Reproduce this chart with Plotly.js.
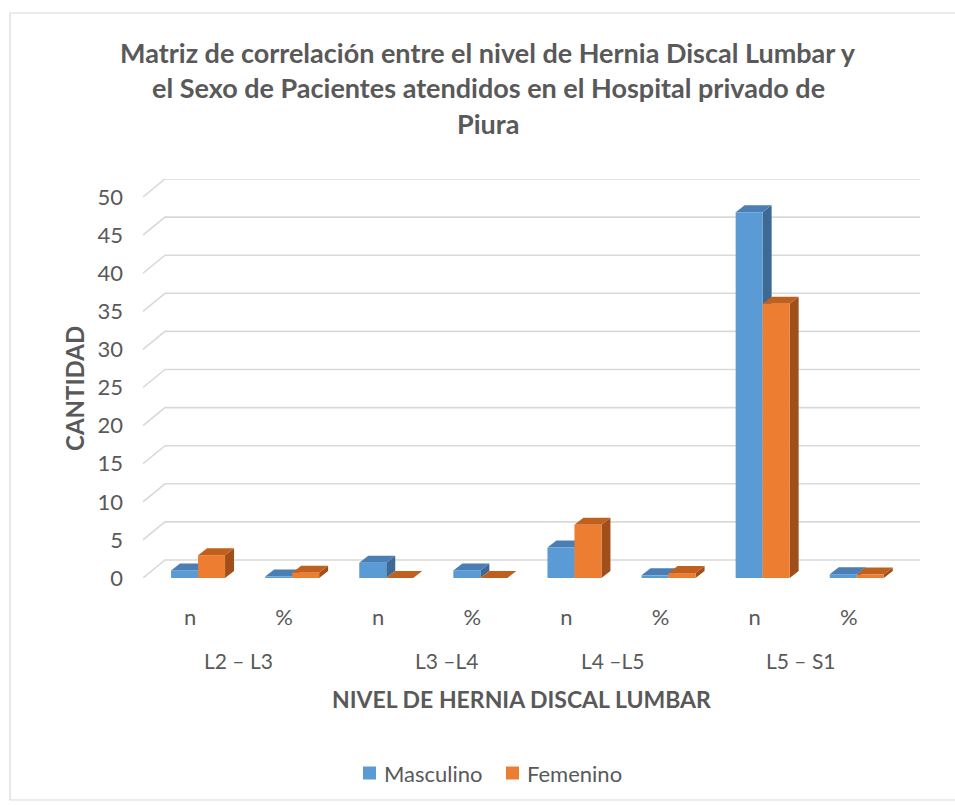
<!DOCTYPE html>
<html>
<head>
<meta charset="utf-8">
<script src="https://cdn.plot.ly/plotly-3.0.1.min.js"></script>
<style>html,body{margin:0;padding:0;background:#fff;}#chart{width:955px;height:805px;}</style>
</head>
<body>
<div id="chart"></div>
<script>
// ---- data ----
const categories = ['n', '%', 'n', '%', 'n', '%', 'n', '%'];
const groupLabels = ['L2 – L3', 'L3 –L4', 'L4 –L5', 'L5 – S1'];
const masculino = [1, 0.2, 2, 1, 4, 0.35, 48, 0.5];
const femenino = [3, 0.7, 0, 0, 7, 0.65, 36, 0.45];
const yTicks = [0, 5, 10, 15, 20, 25, 30, 35, 40, 45, 50];
const seriesNames = ['Masculino', 'Femenino'];

// ---- layout geometry ----
const W = 955, H = 805;
const L = 143, R = 920, T = 179, B = 578;
const catPx = 94.1;
const xRange = [-0.5, -0.5 + (R - L) / catPx];
const yRange = [0, 52.36];
const pxPerY = (B - T) / (yRange[1] - yRange[0]);
const px2x = p => (p - L) / (R - L);
const py2y = p => (B - p) / (B - T);

const TXT = '#595959';
const FONT = 'Lato, Carlito, Calibri, sans-serif';

const colors = {
  front: ['#5B9BD5', '#ED7D31'],
  top: ['#4A7EB5', '#C0601F'],
  side: ['#3D6A94', '#A04F1A']
};

const barW = 27 / catPx;
const shift = 8 / catPx;
const offsets = [shift - barW, shift];
const dx = 9 / catPx, dy = 7 / pxPerY;
const gdx = 22 / catPx, gdy = 18 / pxPerY;

const xs = categories.map((c, i) => i);
const shapes = [];

// back-wall gridlines with perspective
yTicks.forEach(v => {
  shapes.push({
    type: 'path', xref: 'x', yref: 'y', layer: 'below',
    path: `M ${xRange[0]},${v} L ${xRange[0] + gdx},${v + gdy} L ${xRange[1]},${v + gdy}`,
    line: {color: '#D9D9D9', width: 1.6}
  });
});

// 3D side & top faces of bars
[masculino, femenino].forEach((vals, s) => {
  vals.forEach((v, i) => {
    const x0 = xs[i] + offsets[s], x1 = x0 + barW;
    shapes.push({
      type: 'path', xref: 'x', yref: 'y', layer: 'below',
      path: `M ${x1},0 L ${x1 + dx},${dy} L ${x1 + dx},${v + dy} L ${x1},${v} Z`,
      fillcolor: colors.side[s], line: {width: 0}
    });
    shapes.push({
      type: 'path', xref: 'x', yref: 'y', layer: 'below',
      path: `M ${x0},${v} L ${x0 + dx},${v + dy} L ${x1 + dx},${v + dy} L ${x1},${v} Z`,
      fillcolor: colors.top[s], line: {width: 0}
    });
  });
});

// chart border
shapes.push({
  type: 'rect', xref: 'paper', yref: 'paper', layer: 'below',
  x0: px2x(10), x1: px2x(957), y0: py2y(800), y1: py2y(13),
  line: {color: '#D9D9D9', width: 1.2}, fillcolor: 'rgba(0,0,0,0)'
});

// legend (manual, to match the original spacing)
const legendSquarePx = [363, 506];
const legendTextPx = [382, 525];
seriesNames.forEach((n, s) => {
  shapes.push({
    type: 'rect', xref: 'paper', yref: 'paper',
    x0: px2x(legendSquarePx[s]), x1: px2x(legendSquarePx[s] + 13),
    y0: py2y(779.5), y1: py2y(766.5),
    fillcolor: colors.front[s], line: {width: 0}
  });
});

const groupLabelPx = [238, 446, 612, 800];
const annotations = [];
seriesNames.forEach((n, s) => annotations.push({
  text: n, xref: 'paper', yref: 'paper',
  x: px2x(legendTextPx[s]), y: py2y(773), xanchor: 'left', yanchor: 'middle',
  showarrow: false, font: {family: FONT, size: 22, color: TXT}
}));
const titleLines = [
  'Matriz de correlación entre el nivel de Hernia Discal Lumbar y',
  'el Sexo de Pacientes atendidos en el Hospital privado de',
  'Piura'
];
const titleY = [53, 88, 124];
titleLines.forEach((t, k) => annotations.push({
  text: '<b>' + t + '</b>', xref: 'paper', yref: 'paper',
  x: px2x(488), y: py2y(titleY[k]), xanchor: 'center', yanchor: 'middle',
  showarrow: false, font: {family: FONT, size: 27, color: TXT}
}));
groupLabels.forEach((g, k) => annotations.push({
  text: g, xref: 'paper', yref: 'paper',
  x: px2x(groupLabelPx[k]), y: py2y(660), xanchor: 'center', yanchor: 'middle',
  showarrow: false, font: {family: FONT, size: 21, color: TXT}
}));
annotations.push({
  text: '<b>NIVEL DE HERNIA DISCAL LUMBAR</b>', xref: 'paper', yref: 'paper',
  x: px2x(521), y: py2y(699), xanchor: 'center', yanchor: 'middle',
  showarrow: false, font: {family: FONT, size: 23, color: TXT}
});
annotations.push({
  text: '<b>CANTIDAD</b>', xref: 'paper', yref: 'paper', textangle: -90,
  x: px2x(74), y: py2y(389), xanchor: 'center', yanchor: 'middle',
  showarrow: false, font: {family: FONT, size: 24, color: TXT}
});

const traces = [masculino, femenino].map((vals, s) => ({
  type: 'bar', name: seriesNames[s], x: xs, y: vals,
  offset: offsets[s], width: barW,
  marker: {color: colors.front[s], line: {width: 0}},
  hoverinfo: 'x+y', showlegend: false
}));

const layout = {
  width: W, height: H,
  margin: {l: L, r: W - R, t: T, b: H - B, pad: 0},
  paper_bgcolor: '#fff', plot_bgcolor: 'rgba(0,0,0,0)',
  barmode: 'overlay',
  showlegend: false,
  xaxis: {
    range: xRange, tickmode: 'array', tickvals: xs, ticktext: categories,
    showgrid: false, zeroline: false, showline: false, ticks: '',
    ticklabelstandoff: 24,
    tickfont: {family: FONT, size: 22, color: TXT}, fixedrange: true
  },
  yaxis: {
    range: yRange, tickmode: 'array', tickvals: yTicks,
    showgrid: false, zeroline: false, showline: false, ticks: '',
    ticklabelstandoff: 19,
    tickfont: {family: FONT, size: 22, color: TXT}, fixedrange: true
  },
  shapes: shapes,
  annotations: annotations
};

Plotly.newPlot('chart', traces, layout, {displayModeBar: false, staticPlot: true});
</script>
</body>
</html>
